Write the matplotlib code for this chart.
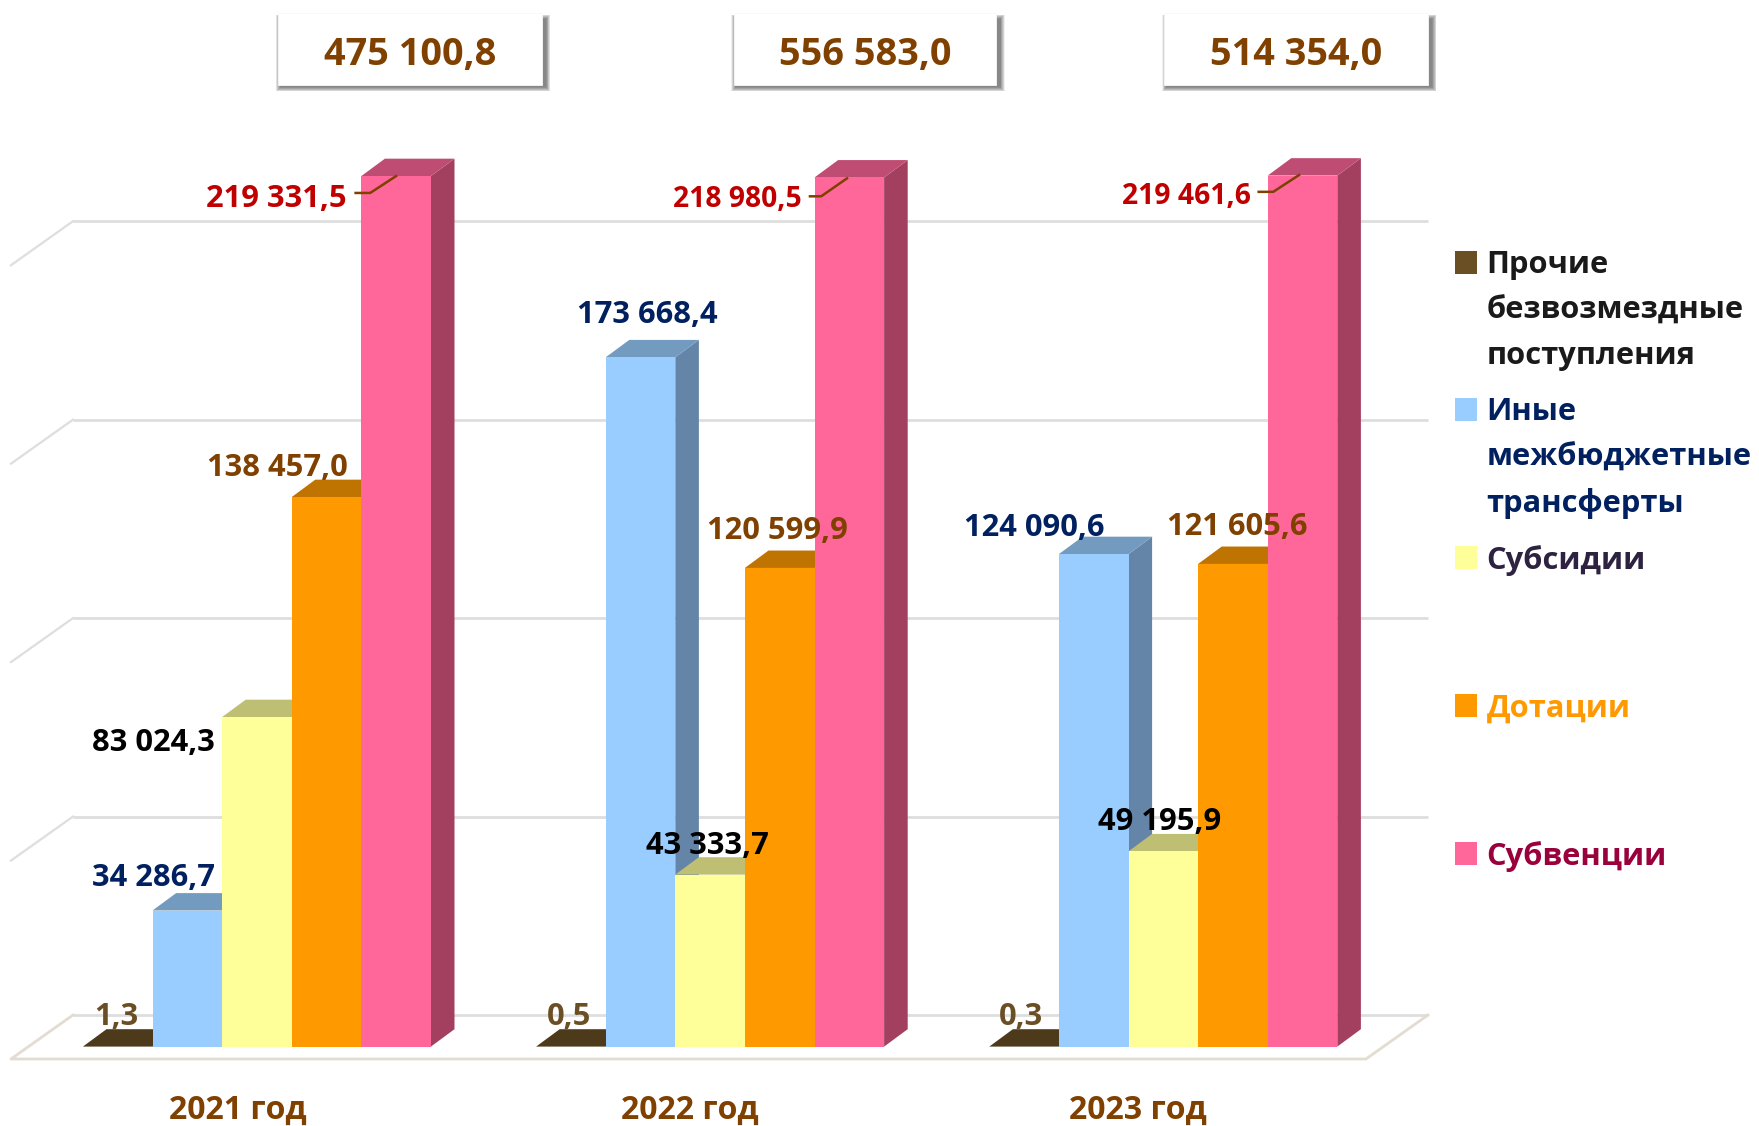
import matplotlib
matplotlib.use("Agg")
import matplotlib.pyplot as plt
from matplotlib.patches import Rectangle, Polygon
from matplotlib.lines import Line2D

years = ["2021 год", "2022 год", "2023 год"]
totals = ["475 100,8", "556 583,0", "514 354,0"]
other = [1.3, 0.5, 0.3]
transfers = [34286.7, 173668.4, 124090.6]
subsidies = [83024.3, 43333.7, 49195.9]
dotations = [138457.0, 120599.9, 121605.6]
subventions = [219331.5, 218980.5, 219461.6]
grid_values = [0, 50000, 100000, 150000, 200000]

W, H = 1759, 1126
S = 1759 / 1568
FONT = "Open Sans"
plt.rcParams["font.family"] = [FONT, "DejaVu Sans"]

fig = plt.figure(figsize=(W / 100, H / 100), dpi=100, facecolor="white")
ax = fig.add_axes([0, 0, 1, 1])
ax.axis("off")

# scale: pixels per data unit
STEP = 453.2
PXV = 0.003969
X0 = 256.9
Y0 = 1046.6
ax.set_xlim(-X0 / STEP, (W - X0) / STEP)
ax.set_ylim(-(H - Y0) / PXV, Y0 / PXV)

BW = 69.6 / STEP
DX = 23.6 / STEP
DY = 17.4 / PXV

# Back wall / floor
WALL_L = (73 - X0) / STEP
WALL_R = (1428 - X0) / STEP
WALL_DY = 31.6 / PXV
SIDE_DX = 62 / STEP
SIDE_DY = 44 / PXV
GRID = "#DEDEDE"
FLOOR = "#E3DCD0"
for v in grid_values:
    y = v + WALL_DY
    ax.plot([WALL_L, WALL_R], [y, y], color=GRID, lw=2, zorder=1, solid_capstyle="butt")
    if v:
        ax.plot([WALL_L, WALL_L - SIDE_DX], [y, y - SIDE_DY], color=GRID, lw=1.6, zorder=1)
fy = WALL_DY - SIDE_DY
ax.plot([WALL_L, WALL_L - SIDE_DX, WALL_R - SIDE_DX, WALL_R],
        [WALL_DY, fy, fy, WALL_DY], color=FLOOR, lw=2, zorder=1)

series = [
    (other, "#664D22", "#4D3A1B", "#4D3A1B"),
    (transfers, "#99CCFF", "#739ABF", "#6585A8"),
    (subsidies, "#FFFF99", "#BFBF73", "#A8A865"),
    (dotations, "#FF9900", "#BF7300", "#A86500"),
    (subventions, "#FF6699", "#BF4D73", "#A34060"),
]
z = 2
for g in range(3):
    for s, (vals, front, top, side) in enumerate(series):
        left = g + (s - 2.5) * BW
        v = vals[g]
        r = left + BW
        ax.add_patch(Polygon([(r, 0), (r + DX, DY), (r + DX, v + DY), (r, v)],
                             closed=True, fc=side, ec="none", zorder=z))
        ax.add_patch(Polygon([(left, v), (left + DX, v + DY), (r + DX, v + DY), (r, v)],
                             closed=True, fc=top, ec="none", zorder=z + 0.1))
        ax.bar(left, v, width=BW, align="edge", color=front, zorder=z + 0.2, linewidth=0)
        z += 1


def fx(sx):
    return sx * S / W


def fy_(sy):
    return 1 - sy * S / H


# Data labels
BROWN = "#7F4000"
NAVY = "#002060"
RED = "#C00000"
LBL = 22.2
label_pos = {
    "other": [(104, 907), (507, 907), (910, 907)],
    "transfers": [(137, 783), (577, 281), (922, 471)],
    "subsidies": [(137, 662), (631, 754), (1034, 733)],
    "dotations": [(247, 417), (693, 473), (1103, 470)],
    "subventions": [(246, 177), (657, 178), (1057.5, 175)],
}
label_size = {"subventions": [22.2, 20.3, 20.3]}


def fmt(v):
    return f"{v:,.1f}".replace(",", " ").replace(".", ",")


label_series = [
    ("other", other, "#6B4F24"),
    ("transfers", transfers, NAVY),
    ("subsidies", subsidies, "black"),
    ("dotations", dotations, BROWN),
    ("subventions", subventions, RED),
]
for key, vals, col in label_series:
    sizes = label_size.get(key, [LBL] * 3)
    for (sx, sy), v, fs in zip(label_pos[key], vals, sizes):
        fig.text(fx(sx), fy_(sy), fmt(v), color=col, fontsize=fs, fontweight="bold",
                 ha="center", va="center", zorder=50)

# Leader lines
for pts in [[(317, 172), (330, 172), (353, 157)],
            [(722, 175), (732, 175), (755, 159)],
            [(1122, 171), (1135, 171), (1158, 156)]]:
    fig.add_artist(Line2D([fx(p[0]) for p in pts], [fy_(p[1]) for p in pts],
                          color=BROWN, lw=1.8, zorder=40))

# Year labels
for sx, t in zip([212, 615, 1014], years):
    fig.text(fx(sx), fy_(990), t, color=BROWN, fontsize=23, fontweight="bold",
             ha="center", va="center")

# Total boxes with soft shadow
for (sl, sr), t in zip([(248, 483), (654, 888), (1038, 1273)], totals):
    st, sb = 12, 76
    for i in range(10, 0, -1):
        e = i * 0.4
        fig.add_artist(Rectangle((fx(sl + 2 - e), fy_(sb + 1.5 + e)),
                                 fx(sr - sl + 1.5 + 2 * e), fy_(st + 5 - e) - fy_(sb + 1.5 + e),
                                 fc="black", ec="none", alpha=0.06, zorder=20))
    fig.add_artist(Rectangle((fx(sl), fy_(sb)), fx(sr - sl), fy_(st) - fy_(sb),
                             fc="white", ec="#F8F8F8", lw=0.6, zorder=21))
    fig.text(fx((sl + sr) / 2), fy_(49), t, color=BROWN, fontsize=27.3, fontweight="bold",
             ha="center", va="center", zorder=30)

# Legend
legend_items = [
    ("Прочие\nбезвозмездные\nпоступления", "#6B4F24", "#1A1A1A", 234),
    ("Иные\nмежбюджетные\nтрансферты", "#99CCFF", NAVY, 365),
    ("Субсидии", "#FFFF99", "#2D2240", 497),
    ("Дотации", "#FF9900", "#FF9900", 629),
    ("Субвенции", "#FF6699", "#99003C", 761),
]
for text, swatch, col, sy in legend_items:
    fig.add_artist(Rectangle((fx(1297), fy_(sy + 10)), fx(20), fy_(sy - 10) - fy_(sy + 10),
                             fc=swatch, ec="none"))
    fig.text(fx(1325), fy_(sy - 11), text, color=col, fontsize=22.2, fontweight="bold",
             ha="left", va="top", linespacing=1.66)

fig.savefig("out.png", dpi=100, facecolor="white")
